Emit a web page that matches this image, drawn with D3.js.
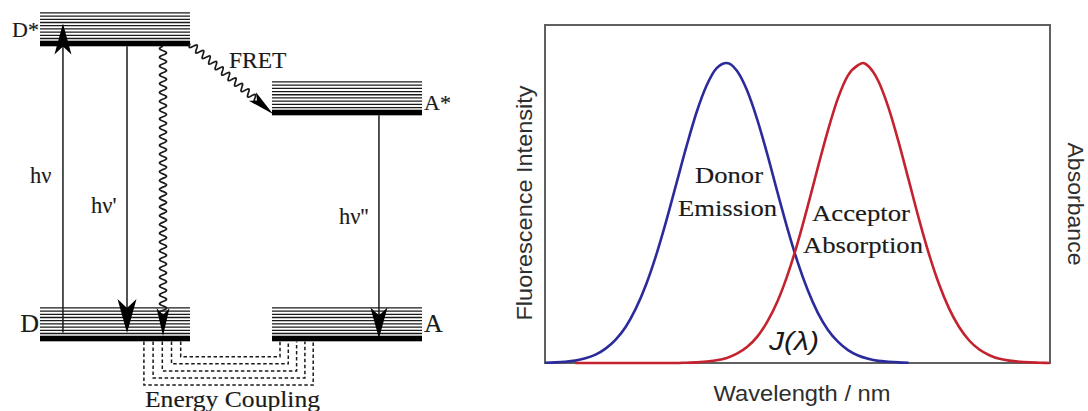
<!DOCTYPE html>
<html><head><meta charset="utf-8">
<script src="https://cdn.jsdelivr.net/npm/d3@7"></script>
<style>
html,body{margin:0;padding:0;background:#fff;}
svg{display:block;}
</style></head>
<body>
<svg id="chart" width="1088" height="411"></svg>
<script>
// ---------------- Data ----------------
// Spectral overlap (arbitrary wavelength units, normalised intensity)
const donorWavelength = [0,2,4,6,8,10,12,14,16,18,20,22,24,26,28,30,32,34,36,38,40,42,44,46,48,50,52,54,56,58,60,62,64,66,68,70,72];
const donorEmission   = [0.001,0.002,0.004,0.008,0.016,0.028,0.048,0.078,0.121,0.182,0.261,0.359,0.473,0.597,0.721,0.835,0.925,0.983,1.000,0.974,0.909,0.813,0.697,0.571,0.449,0.338,0.244,0.168,0.111,0.071,0.043,0.025,0.014,0.007,0.004,0.002,0.001];
const acceptorWavelength = [6,8,10,12,14,16,18,20,22,24,26,28,30,32,34,36,38,40,42,44,46,48,50,52,54,56,58,60,62,63,64,66,68,70,72,74,76,78,80,82,84,86,88,90,92,94,96,98,100];
const acceptorAbsorption = [0,0,0,0,0,0,0,0,0,0,0,0.001,0.002,0.005,0.009,0.017,0.031,0.053,0.087,0.137,0.204,0.292,0.399,0.521,0.650,0.774,0.882,0.959,0.993,1.000,0.990,0.940,0.852,0.738,0.611,0.483,0.365,0.264,0.182,0.120,0.075,0.045,0.026,0.014,0.008,0.004,0.002,0.001,0.000];

// Jablonski diagram: electronic states (relative energy)
const molecules     = ["D","A"];
const stateNames    = ["D*","D","A*","A"];
const stateMolecule = ["D","D","A","A"];
const stateEnergy   = [1.0, 0.0, 0.766, 0.0];
const vibrationalSublevels = [1,2,3,4,5,6,7,8,9];
const couplingModes = [1,2,3,4,5];

// Text
const transitionLabels = ["hν","hν'","hν''","FRET"];
const couplingLabel = "Energy Coupling";
const donorLabel = ["Donor","Emission"];
const acceptorLabel = ["Acceptor","Absorption"];
const overlapLabel = "J(λ)";
const yLabelLeft = "Fluorescence Intensity";
const yLabelRight = "Absorbance";
const xLabel = "Wavelength / nm";

// ---------------- Drawing ----------------
const svg = d3.select("#chart");
const SERIF = "'Liberation Serif','Times New Roman',serif";
const SANS = "'Liberation Sans',Arial,sans-serif";
const INK = "#1a1a1a";

function serif(g, txt, size) {
  return g.append("text").attr("font-family", SERIF).attr("font-size", size)
    .attr("fill", INK).attr("stroke", INK).attr("stroke-width", 0.15).text(txt);
}

// ===== Left: energy diagram =====
const xMol = d3.scaleBand().domain(molecules).range([40, 422]).paddingInner(0.3534).paddingOuter(0);
const yE = d3.scaleLinear().domain([0, 1]).range([338.5, 43.5]);
const bw = xMol.bandwidth();

const states = stateNames.map((n, i) => ({name: n, mol: stateMolecule[i], E: stateEnergy[i]}));
const gL = svg.append("g");

// vibrational sublevels
states.forEach(s => {
  const x0 = xMol(s.mol), yc = yE(s.E);
  gL.selectAll(null).data(vibrationalSublevels).enter().append("line")
    .attr("x1", x0).attr("x2", x0 + bw)
    .attr("y1", v => yc - 5 - (v - 1) * 3.2).attr("y2", v => yc - 5 - (v - 1) * 3.2)
    .attr("stroke", INK).attr("stroke-width", 1.3);
  gL.append("rect").attr("x", x0).attr("y", yc - 2.8).attr("width", bw).attr("height", 5.6).attr("fill", "#000");
});

// state labels
const labelSize = {"D*": 22, "D": 26, "A*": 22, "A": 26};
states.forEach(s => {
  const isD = s.mol === "D";
  serif(gL, s.name, labelSize[s.name])
    .attr("x", isD ? xMol(s.mol) - 1 : xMol(s.mol) + bw + 2)
    .attr("y", yE(s.E) - 6.5 + (s.name === "A*" ? 3.5 : 0))
    .attr("text-anchor", isD ? "end" : "start");
});

function arrowHead(tx, ty, ux, uy, L, W, N) {
  const nx = -uy, ny = ux;
  const p = [
    [tx, ty],
    [tx - ux * L + nx * W, ty - uy * L + ny * W],
    [tx - ux * (L - N), ty - uy * (L - N)],
    [tx - ux * L - nx * W, ty - uy * L - ny * W]
  ];
  return "M" + p.map(d => d.join(",")).join("L") + "Z";
}
function wavy(x0, y0, x1, y1, period, amp) {
  const dx = x1 - x0, dy = y1 - y0, len = Math.hypot(dx, dy);
  const ux = dx / len, uy = dy / len, nx = -uy, ny = ux;
  const n = Math.ceil(len / 0.5), pts = [];
  for (let i = 0; i <= n; i++) {
    const t = i / n * len, o = amp * Math.sin(2 * Math.PI * t / period);
    pts.push([x0 + ux * t + nx * o, y0 + uy * t + ny * o]);
  }
  return d3.line()(pts);
}

const yD = yE(0), yDs = yE(1), yAs = yE(0.766), yA = yE(0);
const xD = xMol("D"), xA = xMol("A");

// hν absorption (up)
const xAbs = xD + bw * 0.153;
gL.append("line").attr("x1", xAbs).attr("x2", xAbs).attr("y1", yD - 6).attr("y2", yDs - 15)
  .attr("stroke", INK).attr("stroke-width", 1.5);
gL.append("path").attr("d", arrowHead(xAbs, yDs - 20, 0, -1, 31, 8.5, 8)).attr("fill", "#000");
serif(gL, transitionLabels[0], 22.5).attr("x", 30).attr("y", 183);

// hν' emission (down)
const xEm = xD + bw * 0.58;
gL.append("line").attr("x1", xEm).attr("x2", xEm).attr("y1", yDs + 2.8).attr("y2", yD - 12)
  .attr("stroke", INK).attr("stroke-width", 1.5);
gL.append("path").attr("d", arrowHead(xEm, yD - 5.5, 0, 1, 34, 9.5, 9)).attr("fill", "#000");
serif(gL, transitionLabels[1], 22.5).attr("x", 91).attr("y", 213);

// non-radiative wavy (down)
const xNr = xD + bw * 0.82;
gL.append("path").attr("d", wavy(xNr, yDs + 2.8, xNr, yD - 24, 8.8, 3.5))
  .attr("fill", "none").attr("stroke", INK).attr("stroke-width", 1.7);
gL.append("path").attr("d", arrowHead(xNr, yD - 2.5, 0, 1, 28, 6.5, 7)).attr("fill", "#000");

// hν'' acceptor emission (down)
const xAe = xA + bw * 0.713;
gL.append("line").attr("x1", xAe).attr("x2", xAe).attr("y1", yAs + 2.8).attr("y2", yA - 12)
  .attr("stroke", INK).attr("stroke-width", 1.5);
gL.append("path").attr("d", arrowHead(xAe, yA, 0, 1, 31, 8.5, 8)).attr("fill", "#000");
serif(gL, transitionLabels[2], 22.5).attr("x", 339).attr("y", 224);

// FRET wavy arrow
{
  const x0 = xD + bw, y0 = yDs, x1 = xA + 1, y1 = yAs + 1.5;
  const len = Math.hypot(x1 - x0, y1 - y0), ux = (x1 - x0) / len, uy = (y1 - y0) / len;
  gL.append("path").attr("d", wavy(x0, y0, x1 - ux * 20, y1 - uy * 20, 8.5, 3.4))
    .attr("fill", "none").attr("stroke", INK).attr("stroke-width", 1.7);
  gL.append("path").attr("d", arrowHead(x1, y1, ux, uy, 27, 5.5, 6)).attr("fill", "#000");
}
serif(gL, transitionLabels[3], 23.5).attr("x", 229).attr("y", 68);

// Energy coupling dashed U-paths
gL.selectAll(null).data(couplingModes).enter().append("path")
  .attr("d", m => {
    const xl = xD + bw - 9.3 - (m - 1) * 9.2;
    const xr = xA + 8 + (m - 1) * 8.3;
    const yb = yD + 18.2 + (m - 1) * 7.1;
    return `M${xl},${yD + 3}L${xl},${yb}L${xr},${yb}L${xr},${yD + 3}`;
  })
  .attr("fill", "none").attr("stroke", INK).attr("stroke-width", 1.5).attr("stroke-dasharray", "3.5,2.5");
serif(gL, couplingLabel, 23).attr("x", 145).attr("y", 407)
  .attr("textLength", 175).attr("lengthAdjust", "spacingAndGlyphs");

// ===== Right: spectral overlap =====
const x = d3.scaleLinear().domain([0, 100]).range([545, 1050]);
const y = d3.scaleLinear().domain([0, 1]).range([363, 63]);
const gR = svg.append("g");

gR.append("rect").attr("x", x(0)).attr("y", 25).attr("width", x(100) - x(0)).attr("height", y(0) - 25)
  .attr("fill", "none").attr("stroke", "#606060").attr("stroke-width", 2);

const line = d3.line().x(d => x(d[0])).y(d => y(d[1])).curve(d3.curveMonotoneX);
gR.append("path").datum(donorWavelength.map((w, i) => [w, donorEmission[i]]))
  .attr("d", line).attr("fill", "none").attr("stroke", "#2b2b9c").attr("stroke-width", 2.6);
gR.append("path").datum(acceptorWavelength.map((w, i) => [w, acceptorAbsorption[i]]))
  .attr("d", line).attr("fill", "none").attr("stroke", "#c3222e").attr("stroke-width", 2.6);

// in-plot labels
function serifText(txt, cx, by, len) {
  serif(gR, txt, 24).attr("x", cx).attr("y", by).attr("text-anchor", "middle")
    .attr("textLength", len).attr("lengthAdjust", "spacingAndGlyphs");
}
serifText(donorLabel[0], 729, 183, 68);
serifText(donorLabel[1], 727.5, 216, 99);
serifText(acceptorLabel[0], 861, 221, 98);
serifText(acceptorLabel[1], 863, 253, 120);

gR.append("text").attr("x", 794).attr("y", 350).attr("text-anchor", "middle")
  .attr("font-family", SANS).attr("font-style", "italic").attr("font-size", 25).attr("fill", INK)
  .attr("textLength", 50).attr("lengthAdjust", "spacingAndGlyphs").text(overlapLabel);

// axis titles
gR.append("text").attr("transform", "translate(532,203) rotate(-90)").attr("text-anchor", "middle")
  .attr("font-family", SANS).attr("font-size", 22).attr("fill", "#2e2e2e")
  .attr("textLength", 235).attr("lengthAdjust", "spacingAndGlyphs").text(yLabelLeft);
gR.append("text").attr("transform", "translate(1068,204) rotate(90)").attr("text-anchor", "middle")
  .attr("font-family", SANS).attr("font-size", 22).attr("fill", "#2e2e2e")
  .attr("textLength", 123).attr("lengthAdjust", "spacingAndGlyphs").text(yLabelRight);
gR.append("text").attr("x", 802).attr("y", 401).attr("text-anchor", "middle")
  .attr("font-family", SANS).attr("font-size", 22).attr("fill", "#2e2e2e")
  .attr("textLength", 177).attr("lengthAdjust", "spacingAndGlyphs").text(xLabel);
</script>
</body></html>
